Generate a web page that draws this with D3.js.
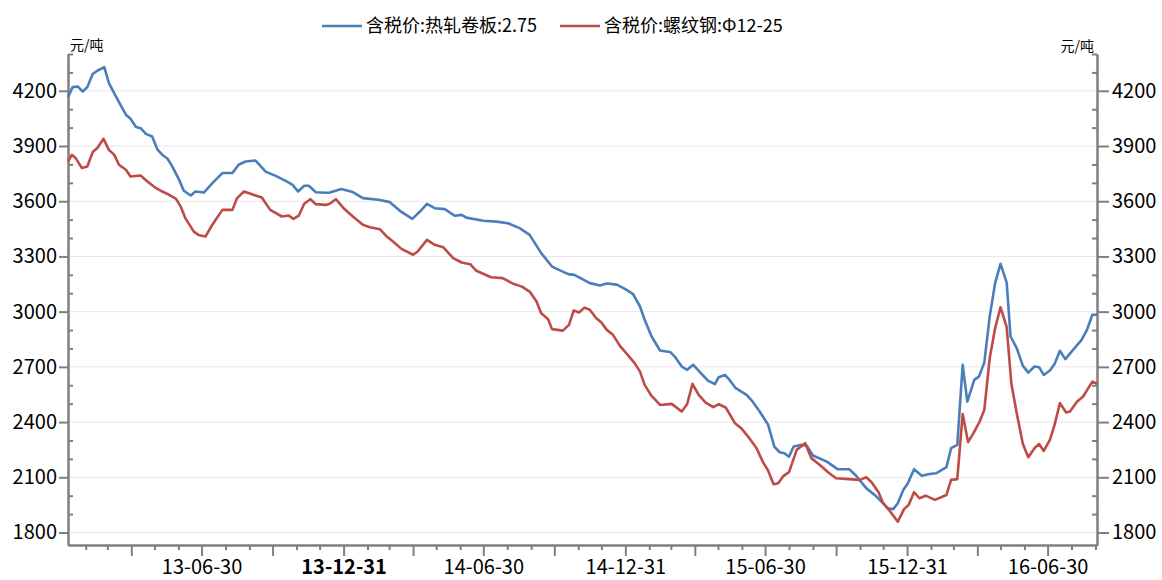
<!DOCTYPE html>
<html>
<head>
<meta charset="utf-8">
<script src="https://cdn.jsdelivr.net/npm/d3@7"></script>
<style>
body { margin: 0; background: #fff; }
svg { display: block; }
text { font-family: "Noto Sans CJK SC", "Noto Sans", sans-serif; fill: #000; }
</style>
</head>
<body>
<svg id="chart" width="1162" height="580"></svg>
<script>
// 含税价:热轧卷板:2.75 (blue)
const hrcSeries = [
	['2013-01-08',4165],['2013-01-14',4220],['2013-01-21',4223],['2013-01-27',4196],['2013-02-02',4220],
	['2013-02-09',4291],['2013-02-15',4309],['2013-02-24',4329],['2013-03-02',4242],['2013-03-10',4178],
	['2013-03-17',4124],['2013-03-24',4070],['2013-03-30',4048],['2013-04-06',4003],['2013-04-12',3997],
	['2013-04-19',3966],['2013-04-27',3952],['2013-05-04',3880],['2013-05-10',3853],['2013-05-17',3831],
	['2013-05-23',3789],['2013-06-01',3716],['2013-06-07',3657],['2013-06-16',3631],['2013-06-22',3653],
	['2013-07-03',3647],['2013-07-14',3698],['2013-07-27',3753],['2013-08-09',3753],['2013-08-17',3798],
	['2013-08-26',3816],['2013-09-08',3821],['2013-09-21',3761],['2013-10-04',3738],['2013-10-17',3711],
	['2013-10-26',3689],['2013-11-02',3653],['2013-11-10',3684],['2013-11-16',3684],['2013-11-25',3649],
	['2013-12-08',3646],['2013-12-13',3647],['2013-12-28',3666],['2014-01-12',3650],['2014-01-25',3617],
	['2014-02-14',3608],['2014-03-01',3595],['2014-03-14',3548],['2014-03-30',3504],['2014-04-09',3544],
	['2014-04-18',3586],['2014-04-28',3562],['2014-05-11',3557],['2014-05-24',3521],['2014-06-02',3526],
	['2014-06-08',3511],['2014-06-30',3494],['2014-07-17',3489],['2014-08-01',3480],['2014-08-16',3454],
	['2014-08-29',3417],['2014-09-13',3318],['2014-09-27',3245],['2014-10-18',3204],['2014-10-26',3200],
	['2014-11-15',3155],['2014-11-28',3142],['2014-12-07',3153],['2014-12-20',3147],['2014-12-31',3122],
	['2015-01-10',3095],['2015-01-19',3028],['2015-01-25',2956],['2015-02-03',2865],['2015-02-14',2789],
	['2015-02-27',2781],['2015-03-05',2756],['2015-03-14',2702],['2015-03-21',2684],['2015-03-29',2711],
	['2015-04-06',2674],['2015-04-17',2625],['2015-04-26',2606],['2015-05-01',2644],['2015-05-09',2656],
	['2015-05-15',2629],['2015-05-23',2584],['2015-06-06',2548],['2015-06-14',2511],['2015-06-23',2457],
	['2015-07-04',2385],['2015-07-12',2267],['2015-07-19',2236],['2015-07-25',2231],['2015-07-31',2212],
	['2015-08-06',2267],['2015-08-16',2276],['2015-08-23',2271],['2015-08-31',2218],['2015-09-18',2185],
	['2015-10-02',2144],['2015-10-17',2144],['2015-10-26',2108],['2015-11-08',2041],['2015-11-19',2004],
	['2015-11-30',1959],['2015-12-06',1932],['2015-12-13',1927],['2015-12-19',1959],['2015-12-26',2031],
	['2016-01-01',2068],['2016-01-09',2144],['2016-01-19',2108],['2016-01-29',2118],['2016-02-07',2122],
	['2016-02-20',2155],['2016-02-26',2258],['2016-03-05',2276],['2016-03-12',2711],['2016-03-18',2511],
	['2016-03-27',2629],['2016-04-02',2647],['2016-04-09',2723],['2016-04-16',2973],['2016-04-23',3155],
	['2016-04-30',3260],['2016-05-08',3158],['2016-05-13',2865],['2016-05-21',2802],['2016-05-29',2705],
	['2016-06-05',2669],['2016-06-13',2702],['2016-06-19',2698],['2016-06-25',2656],['2016-07-03',2680],
	['2016-07-09',2715],['2016-07-16',2787],['2016-07-23',2742],['2016-08-02',2792],['2016-08-13',2847],
	['2016-08-20',2901],['2016-08-27',2983],['2016-09-02',2983]
]

// 含税价:螺纹钢:Φ12-25 (red)
const rebarSeries = [
	['2013-01-08',3816],['2013-01-13',3852],['2013-01-18',3834],['2013-01-26',3780],['2013-02-02',3789],
	['2013-02-09',3867],['2013-02-15',3889],['2013-02-23',3939],['2013-03-02',3879],['2013-03-09',3852],
	['2013-03-15',3798],['2013-03-24',3771],['2013-03-30',3734],['2013-04-12',3740],['2013-04-21',3707],
	['2013-04-30',3677],['2013-05-08',3657],['2013-05-19',3635],['2013-05-28',3613],['2013-06-03',3571],
	['2013-06-09',3508],['2013-06-20',3435],['2013-06-26',3417],['2013-07-05',3408],['2013-07-14',3472],
	['2013-07-27',3553],['2013-08-09',3553],['2013-08-15',3617],['2013-08-24',3653],['2013-09-08',3631],
	['2013-09-16',3620],['2013-09-27',3553],['2013-10-12',3517],['2013-10-21',3522],['2013-10-27',3504],
	['2013-11-03',3522],['2013-11-10',3586],['2013-11-18',3611],['2013-11-25',3584],['2013-12-08',3580],
	['2013-12-13',3586],['2013-12-21',3611],['2013-12-31',3562],['2014-01-12',3517],['2014-01-25',3472],
	['2014-02-03',3459],['2014-02-16',3448],['2014-02-25',3408],['2014-03-05',3381],['2014-03-16',3341],
	['2014-03-31',3309],['2014-04-06',3327],['2014-04-18',3390],['2014-04-28',3363],['2014-05-09',3350],
	['2014-05-22',3291],['2014-06-02',3267],['2014-06-13',3258],['2014-06-21',3222],['2014-07-10',3187],
	['2014-07-25',3182],['2014-08-08',3151],['2014-08-19',3136],['2014-08-29',3109],['2014-09-07',3055],
	['2014-09-13',2991],['2014-09-22',2959],['2014-09-27',2905],['2014-10-11',2897],['2014-10-19',2928],
	['2014-10-25',3006],['2014-11-01',2995],['2014-11-08',3022],['2014-11-15',3010],['2014-11-23',2965],
	['2014-11-30',2941],['2014-12-07',2901],['2014-12-15',2874],['2014-12-24',2814],['2015-01-03',2765],
	['2015-01-12',2720],['2015-01-19',2674],['2015-01-25',2602],['2015-02-03',2542],['2015-02-14',2493],
	['2015-03-01',2499],['2015-03-14',2457],['2015-03-21',2497],['2015-03-28',2608],['2015-04-05',2548],
	['2015-04-14',2506],['2015-04-24',2481],['2015-05-01',2497],['2015-05-10',2479],['2015-05-22',2394],
	['2015-05-30',2367],['2015-06-08',2321],['2015-06-19',2258],['2015-06-27',2185],['2015-07-04',2136],
	['2015-07-11',2062],['2015-07-17',2068],['2015-07-24',2108],['2015-07-31',2128],['2015-08-10',2249],
	['2015-08-21',2285],['2015-08-29',2204],['2015-09-09',2167],['2015-09-20',2126],['2015-09-30',2095],
	['2015-10-17',2090],['2015-10-31',2086],['2015-11-08',2100],['2015-11-15',2073],['2015-11-24',2019],
	['2015-11-30',1959],['2015-12-09',1914],['2015-12-19',1859],['2015-12-27',1927],['2016-01-02',1950],
	['2016-01-09',2019],['2016-01-16',1986],['2016-01-24',2000],['2016-02-05',1977],['2016-02-20',2004],
	['2016-02-26',2086],['2016-03-05',2090],['2016-03-12',2444],['2016-03-19',2291],['2016-03-26',2340],
	['2016-04-03',2403],['2016-04-09',2466],['2016-04-16',2747],['2016-04-23',2910],['2016-04-30',3024],
	['2016-05-08',2916],['2016-05-14',2611],['2016-05-21',2448],['2016-05-29',2281],['2016-06-05',2209],
	['2016-06-13',2258],['2016-06-19',2281],['2016-06-25',2243],['2016-07-03',2303],['2016-07-09',2385],
	['2016-07-16',2503],['2016-07-24',2452],['2016-07-29',2457],['2016-08-07',2511],['2016-08-15',2539],
	['2016-08-27',2620],['2016-09-02',2608]
]

const seriesNames = ['含税价:热轧卷板:2.75', '含税价:螺纹钢:Φ12-25']
const seriesColors = ['#4a7ebb', '#be4b48']
const unitLabel = '元/吨'
const xDomain = ['2013-01-08', '2016-09-02']
const yDomain = [1732, 4400]
const yMajorTicks = [1800, 2100, 2400, 2700, 3000, 3300, 3600, 3900, 4200]
const yMinorTicks = [1900, 2000, 2200, 2300, 2500, 2600, 2800, 2900, 3100, 3200, 3400, 3500, 3700, 3800, 4000, 4100, 4300, 4400]
const boldLabels = ['13-12-31']

const parseDate = d3.timeParse('%Y-%m-%d')
const fmtDate = d3.timeFormat('%y-%m-%d')
const toPoints = s => s.map(([d, v]) => ({ date: parseDate(d), value: v }))

const plotLeft = 68, plotRight = 1097, plotTop = 54, plotBottom = 545
const axisColor = '#7f7f7f'

const svg = d3.select('#chart')

const x = d3.scaleTime()
	.domain(xDomain.map(parseDate))
	.range([plotLeft, plotRight])
const y = d3.scaleLinear()
	.domain(yDomain)
	.range([plotBottom, plotTop])

// month-end ticks; quarter ends are the major ones
const monthEnds = d3.timeMonth.range(x.domain()[0], d3.timeMonth.offset(x.domain()[1], 1))
	.map(m => d3.timeDay.offset(m, -1))
	.filter(d => d >= x.domain()[0] && d <= x.domain()[1])
const quarterEnds = monthEnds.filter(d => d.getMonth() % 3 === 2)
const otherEnds = monthEnds.filter(d => d.getMonth() % 3 !== 2)

// gridlines
svg.append('g')
	.selectAll('line')
	.data(yMajorTicks)
	.join('line')
	.attr('x1', plotLeft)
	.attr('x2', plotRight)
	.attr('y1', d => y(d))
	.attr('y2', d => y(d))
	.attr('stroke', '#e8e8e8')
	.attr('stroke-width', 1)

function styleAxis(g) {
	g.selectAll('.domain').attr('stroke', axisColor).attr('stroke-width', 2)
	g.selectAll('.tick line').attr('stroke', axisColor).attr('stroke-width', 2)
	g.selectAll('.tick text').attr('fill', '#000')
}

// left axis
svg.append('g')
	.attr('transform', `translate(${plotLeft},0)`)
	.call(d3.axisLeft(y).tickValues(yMinorTicks).tickSizeInner(-5).tickSizeOuter(0).tickFormat(''))
	.call(styleAxis)
svg.append('g')
	.attr('transform', `translate(${plotLeft},0)`)
	.call(d3.axisLeft(y).tickValues(yMajorTicks).tickSizeInner(9).tickSizeOuter(0).tickPadding(2).tickFormat(d3.format('d')))
	.call(styleAxis)
	.call(g => g.selectAll('.tick text').style('font-size', '20px').style('font-family', '"Noto Sans CJK SC", sans-serif'))

// right axis
svg.append('g')
	.attr('transform', `translate(${plotRight},0)`)
	.call(d3.axisRight(y).tickValues(yMinorTicks).tickSizeInner(-5).tickSizeOuter(0).tickFormat(''))
	.call(styleAxis)
svg.append('g')
	.attr('transform', `translate(${plotRight},0)`)
	.call(d3.axisRight(y).tickValues(yMajorTicks).tickSizeInner(12).tickSizeOuter(0).tickPadding(3).tickFormat(d3.format('d')))
	.call(styleAxis)
	.call(g => g.selectAll('.tick text').style('font-size', '20px').style('font-family', '"Noto Sans CJK SC", sans-serif'))

// bottom axis
svg.append('g')
	.attr('transform', `translate(0,${plotBottom})`)
	.call(d3.axisBottom(x).tickValues(otherEnds).tickSizeInner(5).tickSizeOuter(0).tickFormat(''))
	.call(styleAxis)
svg.append('g')
	.attr('transform', `translate(0,${plotBottom})`)
	.call(d3.axisBottom(x).tickValues(quarterEnds).tickSizeInner(11).tickSizeOuter(0).tickPadding(4)
		.tickFormat(d => (d.getMonth() === 5 || d.getMonth() === 11) ? fmtDate(d) : ''))
	.call(styleAxis)
	.call(g => g.selectAll('.tick text')
		.style('font-size', '20px')
		.style('font-family', '"Noto Sans CJK SC", sans-serif')
		.style('font-weight', d => boldLabels.includes(fmtDate(d)) ? 'bold' : 'normal'))

// unit labels
svg.append('text')
	.attr('x', plotLeft + 2)
	.attr('y', 50)
	.style('font-size', '14px')
	.text(unitLabel)
svg.append('text')
	.attr('x', plotRight - 3)
	.attr('y', 51)
	.attr('text-anchor', 'end')
	.style('font-size', '14px')
	.text(unitLabel)

// lines
const line = d3.line()
	.x(d => x(d.date))
	.y(d => y(d.value))

;[hrcSeries, rebarSeries].forEach((s, i) => {
	svg.append('path')
		.attr('d', line(toPoints(s)))
		.attr('fill', 'none')
		.attr('stroke', seriesColors[i])
		.attr('stroke-width', 2.6)
		.attr('stroke-linejoin', 'round')
})

// legend
const legendX = [322, 560]
seriesNames.forEach((name, i) => {
	const lg = svg.append('g').attr('transform', `translate(${legendX[i]},26)`)
	lg.append('line')
		.attr('x1', 0)
		.attr('x2', 40)
		.attr('stroke', seriesColors[i])
		.attr('stroke-width', 2.6)
	lg.append('text')
		.attr('x', 44)
		.attr('dy', '0.35em')
		.style('font-size', '18px')
		.text(name)
})
</script>
</body>
</html>
